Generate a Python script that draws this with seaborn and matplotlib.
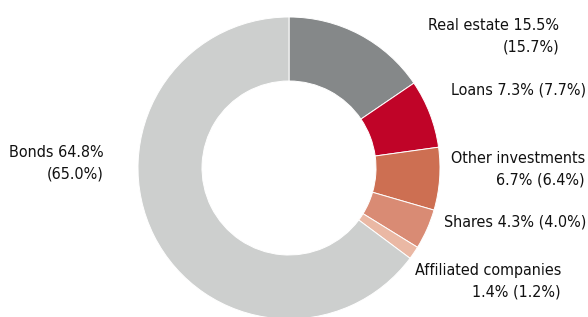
import matplotlib
matplotlib.use("Agg")
import matplotlib.pyplot as plt
import seaborn as sns

# shares of portfolio (current year, previous year in brackets)
categories = ["Real estate", "Loans", "Other investments", "Shares", "Affiliated companies", "Bonds"]
current = [15.5, 7.3, 6.7, 4.3, 1.4, 64.8]
previous = [15.7, 7.7, 6.4, 4.0, 1.2, 65.0]
colors = ["#858889", "#c00428", "#cd6f52", "#d98b74", "#eab8a4", "#cdcfce"]

sns.set_theme(style="white")
plt.rcParams["font.family"] = ["DejaVu Sans"]

fig = plt.figure(figsize=(5.88, 3.17), dpi=100)
ax = fig.add_axes([0, 0, 1, 1])

ax.pie(current, colors=colors, startangle=90, counterclock=False,
       center=(289, 149), radius=151,
       wedgeprops=dict(width=64, edgecolor="white", linewidth=0.7))

# pie() resets the limits, so set them afterwards
ax.set_xlim(0, 588)
ax.set_ylim(0, 317)
ax.set_aspect("equal")
ax.axis("off")

# label text, right-aligned at the given x, y (pixel coords, y from bottom)
labels = [
    (f"{categories[0]} {current[0]}%\n({previous[0]}%)", 559, 281),
    (f"{categories[1]} {current[1]}% ({previous[1]}%)", 586, 227),
    (f"{categories[2]}\n{current[2]}% ({previous[2]}%)", 585, 148),
    (f"{categories[3]} {current[3]}% ({previous[3]}%)", 586, 95),
    (f"{categories[4]}\n{current[4]}% ({previous[4]}%)", 561, 36),
    (f"{categories[5]} {current[5]}%\n({previous[5]}%)", 104, 154),
]
for txt, x, y in labels:
    ax.text(x, y, txt, ha="right", va="center", fontsize=11.5,
            fontstretch="condensed", color="#111111",
            linespacing=1.55, multialignment="right")

fig.savefig("out.png", dpi=100)
